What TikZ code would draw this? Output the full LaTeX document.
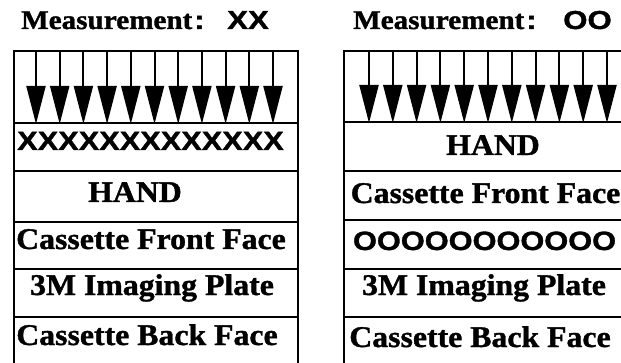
\documentclass[tikz,border=0pt]{standalone}
\usepackage{fontspec}
\setmainfont{Liberation Serif}[BoldFeatures={FakeBold=1.2}]
\newfontfamily\hsans{Liberation Sans}[BoldFeatures={FakeBold=1.2}]
\usetikzlibrary{arrows.meta,calc}
\newcommand{\rowtxt}[1]{\scalebox{1.06}[1]{\fontsize{30}{30}\selectfont\bfseries #1}}
\newcommand{\symtxt}[1]{\scalebox{1.16}[1]{\fontsize{26.5}{26.5}\selectfont\hsans\bfseries #1}}
\newcommand{\ttltxt}[1]{\scalebox{1.08}[1]{\fontsize{27}{27}\selectfont\bfseries #1}}
\newcommand{\ttlsym}[1]{\scalebox{1.2}[1]{\fontsize{26}{26}\selectfont\hsans\bfseries #1}}
\begin{document}
\begin{tikzpicture}[x=1pt,y=-1pt,
  rowbox/.style={draw=black,line width=2pt,minimum width=284pt,inner sep=0pt,anchor=north west},
  lbl/.style={inner sep=0pt,anchor=base},
  ttl/.style={inner sep=0pt,anchor=base west},
  ray/.style={line width=2pt,-{Triangle[length=38pt,width=19pt]}}]
\useasboundingbox (0,0) rectangle (621,363);
\clip (0,0) rectangle (621,363);
% titles
\node[ttl] (t1) at (21,29) {\ttltxt{Measurement}};
\node[ttl] (t2) at (194,29) {\ttlsym{:}};
\node[ttl] (t3) at (227,29) {\ttlsym{XX}};
\node[ttl] (t4) at (353,29) {\ttltxt{Measurement}};
\node[ttl] (t5) at (526,29) {\ttlsym{:}};
\node[ttl] (t6) at (563,29) {\ttlsym{OO}};
% left stack
\node[rowbox,minimum height=72pt] (LA) at (13,50) {};
\node[rowbox,minimum height=48pt] (L1) at (13,122) {};
\node[rowbox,minimum height=51pt] (L2) at (13,170) {};
\node[rowbox,minimum height=47pt] (L3) at (13,221) {};
\node[rowbox,minimum height=48pt] (L4) at (13,268) {};
\node[rowbox,minimum height=60pt] (L5) at (13,316) {};
\node[lbl] (L1t) at (150.5,150) {\symtxt{XXXXXXXXXXXXX}};
\node[lbl] (L2t) at (135,202) {\rowtxt{HAND}};
\node[lbl] (L3t) at (151,249) {\rowtxt{Cassette Front Face}};
\node[lbl] (L4t) at (152,295) {\rowtxt{3M Imaging Plate}};
\node[lbl] (L5t) at (147,345) {\rowtxt{Cassette Back Face}};
% right stack
\node[rowbox,minimum height=71pt] (RA) at (343,50) {};
\node[rowbox,minimum height=49pt] (R1) at (343,121) {};
\node[rowbox,minimum height=49pt] (R2) at (343,170) {};
\node[rowbox,minimum height=49pt] (R3) at (343,219) {};
\node[rowbox,minimum height=48pt] (R4) at (343,268) {};
\node[rowbox,minimum height=60pt] (R5) at (343,316) {};
\node[lbl] (R1t) at (493,155) {\rowtxt{HAND}};
\node[lbl] (R2t) at (485.5,203) {\rowtxt{Cassette Front Face}};
\node[lbl] (R3t) at (484.5,250) {\symtxt{OOOOOOOOOOO}};
\node[lbl] (R4t) at (484,295) {\rowtxt{3M Imaging Plate}};
\node[lbl] (R5t) at (480,347) {\rowtxt{Cassette Back Face}};
% arrows
\foreach \i in {0,...,10}{
  \path (LA.north west) ++(23+23.7*\i,0) coordinate (la\i);
  \path (LA.south west) ++(23+23.7*\i,0) coordinate (lb\i);
  \draw[ray] (la\i) -- (lb\i);
  \path (RA.north west) ++(26+23.8*\i,0) coordinate (ra\i);
  \path (RA.south west) ++(26+23.8*\i,0) coordinate (rb\i);
  \draw[ray] (ra\i) -- (rb\i);
}
\end{tikzpicture}
\end{document}
